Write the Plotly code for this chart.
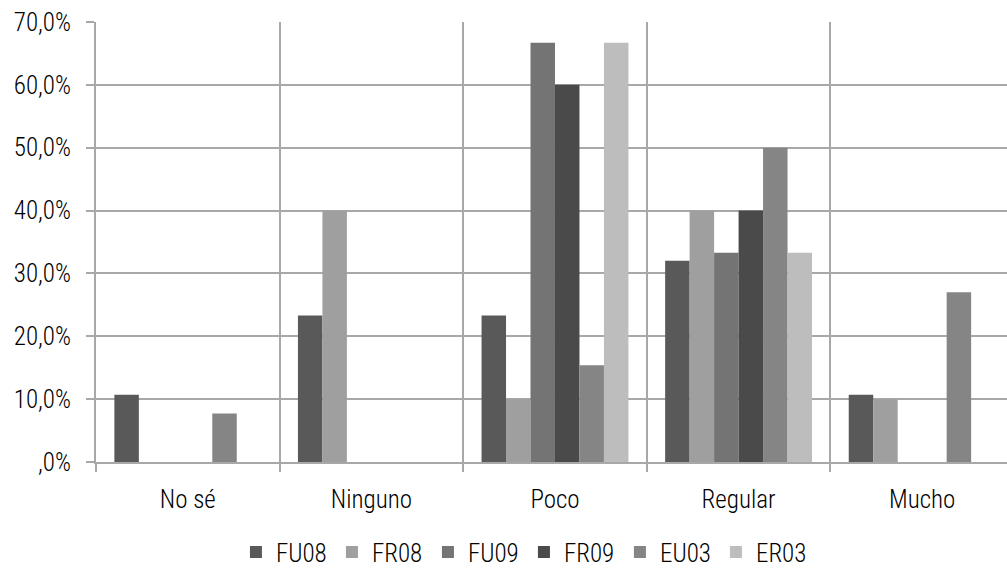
import plotly.graph_objects as go

# Categories and series (percent values)
categories = ["No sé", "Ninguno", "Poco", "Regular", "Mucho"]
series_names = ["FU08", "FR08", "FU09", "FR09", "EU03", "ER03"]
FU08 = [10.7, 23.3, 23.3, 32.0, 10.7]
FR08 = [0.0, 40.0, 10.0, 40.0, 10.0]
FU09 = [0.0, 0.0, 66.7, 33.3, 0.0]
FR09 = [0.0, 0.0, 60.0, 40.0, 0.0]
EU03 = [7.7, 0.0, 15.4, 50.0, 27.0]
ER03 = [0.0, 0.0, 66.7, 33.3, 0.0]
y_tick_values = [0, 10, 20, 30, 40, 50, 60, 70]
y_tick_labels = [",0%", "10,0%", "20,0%", "30,0%", "40,0%", "50,0%", "60,0%", "70,0%"]

series_values = [FU08, FR08, FU09, FR09, EU03, ER03]
bar_colors = ["#595959", "#9f9f9f", "#747474", "#4a4a4a", "#858585", "#bdbdbd"]

FONT = "Roboto Condensed, Liberation Sans Narrow, Arial Narrow, Roboto, sans-serif"
GRID = "#a8a8a8"

fig = go.Figure()
for name, vals, col in zip(series_names, series_values, bar_colors):
    fig.add_trace(go.Bar(name=name, x=categories, y=vals,
                         marker=dict(color=col, line=dict(width=0))))

fig.update_layout(
    width=1007, height=570,
    margin=dict(l=96, r=0, t=22, b=108, autoexpand=False),
    paper_bgcolor="white", plot_bgcolor="white",
    barmode="group", bargap=0.2, bargroupgap=0,
    font=dict(family=FONT, size=25, color="#000000", weight=350),
    showlegend=True,
    legend=dict(orientation="h", x=0.2343, xref="container", xanchor="left",
                y=0.031, yref="container", yanchor="middle",
                font=dict(family=FONT, size=25, weight=350), itemwidth=30, tracegroupgap=0,
                entrywidth=51, entrywidthmode="pixels"),
)
fig.update_xaxes(
    type="category", range=[-0.5, 4.462],
    tickson="boundaries", ticks="outside", ticklen=8, tickcolor=GRID, tickwidth=2,
    showgrid=True, gridcolor=GRID, gridwidth=2,
    showline=True, linecolor=GRID, linewidth=2,
    ticklabelstandoff=14,
)
fig.update_yaxes(
    range=[0, 70], tickvals=y_tick_values, ticktext=y_tick_labels,
    ticks="outside", ticklen=8, tickcolor=GRID, tickwidth=2,
    showgrid=True, gridcolor=GRID, gridwidth=2,
    showline=True, linecolor=GRID, linewidth=2, zeroline=False,
    ticklabelstandoff=10,
)

fig.write_html("out.html")
